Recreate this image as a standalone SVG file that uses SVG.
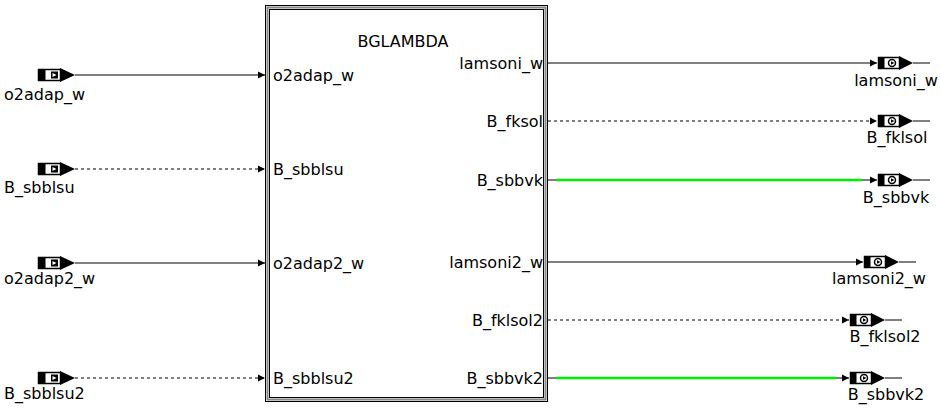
<svg xmlns="http://www.w3.org/2000/svg" width="941" height="408" viewBox="0 0 941 408">
<style>
text{font-family:"DejaVu Sans","Liberation Sans",Arial,sans-serif;font-size:16px;fill:#000}
.c{stroke:#000;stroke-width:1;fill:none}
.d{stroke-dasharray:3,3}
.g{stroke:#00ee00;stroke-width:2.5;fill:none}
.m{text-anchor:middle}
.e{text-anchor:end}
</style>
<defs>
<marker id="ah" markerWidth="8" markerHeight="8" refX="7" refY="4" orient="auto" markerUnits="userSpaceOnUse">
<path d="M0,0.5 L7,4 L0,7.5 Z" fill="#000"/>
</marker>
<g id="inIcon">
<rect x="0.5" y="-5.5" width="22" height="11" fill="#fff" stroke="#000" stroke-width="1.5"/>
<rect x="0.5" y="-5.5" width="7" height="11" fill="#000"/>
<rect x="13" y="-3.5" width="7" height="7" fill="#000"/>
<path d="M14.5,-2 L18.5,0 L14.5,2 Z" fill="#fff"/>
<path d="M22,-7 L37,0 L22,7 Z" fill="#000"/>
</g>
<g id="outIcon">
<rect x="1.5" y="-5.5" width="21" height="11" fill="#fff" stroke="#000" stroke-width="1.5"/>
<rect x="1.5" y="-5.5" width="6" height="11" fill="#000"/>
<circle cx="15" cy="0" r="3.5" fill="#fff" stroke="#000" stroke-width="1.5"/>
<path d="M14,-1.8 L17.3,0 L14,1.8 Z" fill="#000"/>
<path d="M22,-7 L36,0 L22,7 Z" fill="#000"/>
</g>
</defs>
<g id="block">
<rect x="265.5" y="5.5" width="282" height="396" fill="#fff" stroke="#000"/>
<rect x="267.5" y="7.5" width="278" height="392" fill="none" stroke="#888" stroke-width="2"/>
<rect x="269.5" y="9.5" width="274" height="388" fill="none" stroke="#000"/>
<text x="403" y="47" class="m">BGLAMBDA</text>
<text x="273" y="81">o2adap_w</text>
<text x="273" y="175">B_sbblsu</text>
<text x="273" y="269">o2adap2_w</text>
<text x="273" y="384">B_sbblsu2</text>
<text x="543" y="69" class="e">lamsoni_w</text>
<text x="543" y="127" class="e">B_fksol</text>
<text x="543" y="186" class="e">B_sbbvk</text>
<text x="543" y="268" class="e">lamsoni2_w</text>
<text x="543" y="326" class="e">B_fklsol2</text>
<text x="543" y="384" class="e">B_sbbvk2</text>
</g>
<g id="connectors">
<path class="c" d="M75,75 H265" marker-end="url(#ah)"/>
<path class="c d" d="M75,169 H265" marker-end="url(#ah)"/>
<path class="c" d="M75,263 H265" marker-end="url(#ah)"/>
<path class="c d" d="M75,378 H265" marker-end="url(#ah)"/>
<path class="c" d="M548,63 H877" marker-end="url(#ah)"/>
<path class="c d" d="M548,121 H877" marker-end="url(#ah)"/>
<path class="c" d="M548,180 H877" marker-end="url(#ah)"/>
<path class="g" d="M556,180 H862"/>
<path class="c" d="M548,262 H863" marker-end="url(#ah)"/>
<path class="c d" d="M548,320 H849" marker-end="url(#ah)"/>
<path class="c" d="M548,378 H849" marker-end="url(#ah)"/>
<path class="g" d="M556,378 H836"/>
<path class="c" d="M913,63 H930"/>
<path class="c" d="M913,121 H930"/>
<path class="c" d="M913,180 H930"/>
<path class="c" d="M899,262 H916"/>
<path class="c" d="M885,320 H902"/>
<path class="c" d="M885,378 H902"/>
</g>
<g id="in_o2adap_w"><use href="#inIcon" x="38" y="75"/><text x="4" y="100">o2adap_w</text></g>
<g id="in_B_sbblsu"><use href="#inIcon" x="38" y="169"/><text x="4" y="193">B_sbblsu</text></g>
<g id="in_o2adap2_w"><use href="#inIcon" x="38" y="263"/><text x="4" y="284">o2adap2_w</text></g>
<g id="in_B_sbblsu2"><use href="#inIcon" x="38" y="378"/><text x="4" y="399">B_sbblsu2</text></g>
<g id="out_lamsoni_w"><use href="#outIcon" x="877" y="63"/><text x="896" y="86" class="m">lamsoni_w</text></g>
<g id="out_B_fklsol"><use href="#outIcon" x="877" y="121"/><text x="897" y="143" class="m">B_fklsol</text></g>
<g id="out_B_sbbvk"><use href="#outIcon" x="877" y="180"/><text x="896" y="203" class="m">B_sbbvk</text></g>
<g id="out_lamsoni2_w"><use href="#outIcon" x="863" y="262"/><text x="879" y="284" class="m">lamsoni2_w</text></g>
<g id="out_B_fklsol2"><use href="#outIcon" x="849" y="320"/><text x="885" y="342" class="m">B_fklsol2</text></g>
<g id="out_B_sbbvk2"><use href="#outIcon" x="849" y="378"/><text x="886" y="400" class="m">B_sbbvk2</text></g>
</svg>
